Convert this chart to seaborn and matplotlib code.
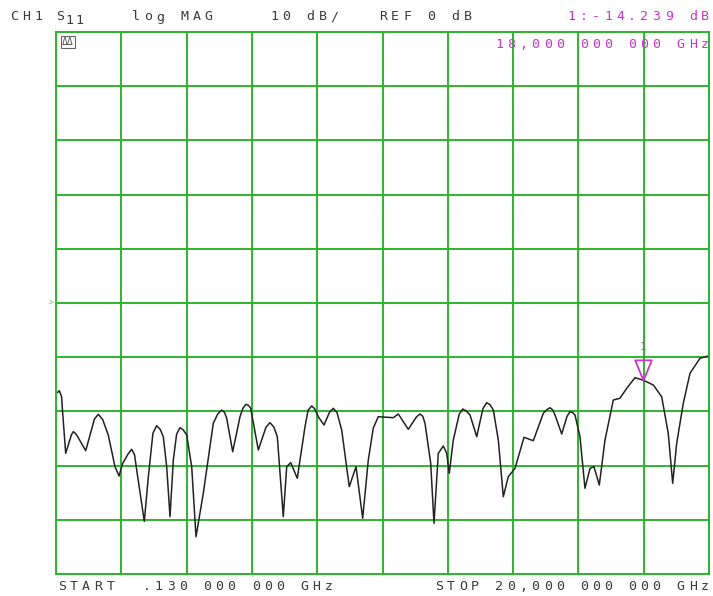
import numpy as np
import matplotlib
matplotlib.use("Agg")
import matplotlib.pyplot as plt
from matplotlib.path import Path
import seaborn as sns

# S11 trace, frequency in GHz and magnitude in dB
freq_ghz = [0.17, 0.23, 0.30, 0.33, 0.425, 0.60, 0.656, 0.71, 0.76, 1.034,
            1.30, 1.417, 1.55, 1.72, 1.925, 2.047, 2.16, 2.33, 2.433, 2.52,
            2.586, 2.817, 2.94, 3.08, 3.194, 3.30, 3.395, 3.498, 3.599, 3.70,
            3.80, 3.903, 4.0, 4.107, 4.259, 4.39, 4.612, 4.916, 5.05, 5.172,
            5.26, 5.324, 5.507, 5.729, 5.82, 5.912, 5.99, 6.054, 6.286, 6.52,
            6.642, 6.76, 6.864, 7.046, 7.15, 7.272, 7.472, 7.707, 7.80, 7.91,
            8.00, 8.11, 8.285, 8.45, 8.568, 8.68, 8.823, 9.054, 9.259, 9.462,
            9.633, 9.785, 9.937, 10.394, 10.546, 10.85, 11.10, 11.206, 11.29, 11.358,
            11.532, 11.632, 11.763, 11.915, 12.018, 12.097, 12.219, 12.40, 12.505, 12.61,
            12.728, 12.932, 13.12, 13.236, 13.34, 13.437, 13.589, 13.741, 13.893, 14.097,
            14.371, 14.654, 14.958, 15.06, 15.162, 15.24, 15.314, 15.518, 15.68, 15.77,
            15.85, 15.922, 16.074, 16.226, 16.379, 16.5, 16.662, 16.835, 17.088, 17.29,
            17.496, 17.748, 18.0, 18.305, 18.56, 18.76, 18.895, 19.017, 19.218, 19.422,
            19.726, 19.97]
s11_db = [-16.55, -16.18, -17.27, -20.06, -27.73, -24.3, -23.75, -24.0, -24.35, -27.25,
          -21.4, -20.54, -21.5, -24.35, -30.2, -31.92, -29.58, -27.8, -26.99, -28.0,
          -30.81, -40.31, -32.05, -24.0, -22.64, -23.3, -24.67, -30.2, -39.43, -28.97,
          -24.2, -23.0, -23.4, -24.35, -30.2, -43.12, -35.11, -22.2, -20.5, -19.74,
          -20.2, -21.27, -27.44, -20.98, -19.4, -18.69, -18.9, -19.43, -27.12, -22.9,
          -22.08, -22.9, -24.67, -39.43, -30.2, -29.46, -32.34, -22.82, -19.8, -19.0,
          -19.5, -20.98, -22.51, -20.2, -19.43, -20.2, -23.43, -33.89, -30.2, -39.72,
          -28.97, -23.06, -20.98, -21.16, -20.48, -23.3, -21.0, -20.48, -20.9, -22.2,
          -29.58, -40.65, -27.73, -26.38, -27.73, -31.42, -25.28, -20.5, -19.56, -19.9,
          -20.66, -24.67, -19.5, -18.39, -18.8, -19.74, -25.28, -35.74, -32.05, -30.5,
          -24.78, -25.41, -20.35, -19.7, -19.32, -19.7, -20.66, -24.17, -20.9, -20.06,
          -20.2, -20.66, -24.67, -34.19, -30.5, -30.2, -33.58, -25.28, -17.9, -17.58,
          -15.74, -13.78, -14.24, -15.13, -17.29, -24.04, -33.27, -25.89, -18.5, -12.97,
          -10.2, -9.78]

start_ghz = 0.13
stop_ghz = 20.0
ref_db = 0
db_per_div = 10
marker_ghz = 18.0
marker_db = -14.239

W, H = 713, 596
GREEN = "#2cb52c"
INK = "#3a3a3a"
MAGENTA = "#cc33cc"

sns.set_style("white")
plt.rcParams["font.family"] = ["DejaVu Sans Mono", "DejaVu Sans"]

fig = plt.figure(figsize=(W / 100, H / 100), dpi=100)
ax = fig.add_axes([56 / W, 1 - 574 / H, 653 / W, 542 / H])

sns.lineplot(x=freq_ghz, y=s11_db, ax=ax, color="#222222", linewidth=1.1,
             estimator=None, sort=False)

ax.set_xlim(start_ghz, stop_ghz)
ax.set_ylim(ref_db - 5 * db_per_div, ref_db + 5 * db_per_div)
ax.set_xticks(np.linspace(start_ghz, stop_ghz, 11))
ax.set_yticks(np.arange(-50, 51, db_per_div))
ax.tick_params(length=0, labelbottom=False, labelleft=False)
ax.grid(True, color=GREEN, linewidth=1.4)
for sp in ax.spines.values():
    sp.set_color(GREEN)
    sp.set_linewidth(1.4)

# marker 1: open triangle whose tip sits on the trace
tri = Path([(0, 0), (-7, 17), (7, 17), (0, 0)],
           [Path.MOVETO, Path.LINETO, Path.LINETO, Path.CLOSEPOLY])
ax.plot([marker_ghz], [marker_db], marker=tri, markersize=29, markerfacecolor="none",
        markeredgecolor=MAGENTA, markeredgewidth=1.3, zorder=5)
ax.annotate("1", (marker_ghz, marker_db), xytext=(0, 20), textcoords="offset points",
            color=MAGENTA, fontsize=7.5, ha="center", va="bottom")

# reference position arrow on the left edge
fig.text(49 / W, 1 - 303 / H, ">", color="#7fbf7f", fontsize=6, ha="left", va="center")
# small annotation box in the upper left corner
fig.text(62 / W, 1 - 42 / H, "ΔΔ", color="#555555", fontsize=7, ha="left", va="center",
         bbox=dict(boxstyle="square,pad=0.1", fc="none", ec="#666666", lw=0.8))


def screen_text(x, y, s, color=INK, pitch=12.1, align="left", size=9.5):
    # the analyzer font has a fixed, wide character pitch
    if align == "right":
        x = x - pitch * len(s)
    for i, ch in enumerate(s):
        if ch == " ":
            continue
        fig.text((x + pitch * i + pitch / 2) / W, 1 - y / H, ch, color=color,
                 fontsize=size, ha="center", va="center")


screen_text(8, 17, "CH1")
screen_text(54, 17, "S")
screen_text(64, 21, "11", pitch=10)
screen_text(130, 17, "log MAG")
screen_text(268, 17, "10 dB/")
screen_text(377, 17, "REF 0 dB")
screen_text(711, 17, "1:-14.239 dB", color=MAGENTA, align="right")
screen_text(711, 45, "18,000 000 000 GHz", color=MAGENTA, align="right")
screen_text(56, 587, "START  .130 000 000 GHz")
screen_text(711, 587, "STOP 20,000 000 000 GHz", align="right")

fig.savefig("out.png", dpi=100)
